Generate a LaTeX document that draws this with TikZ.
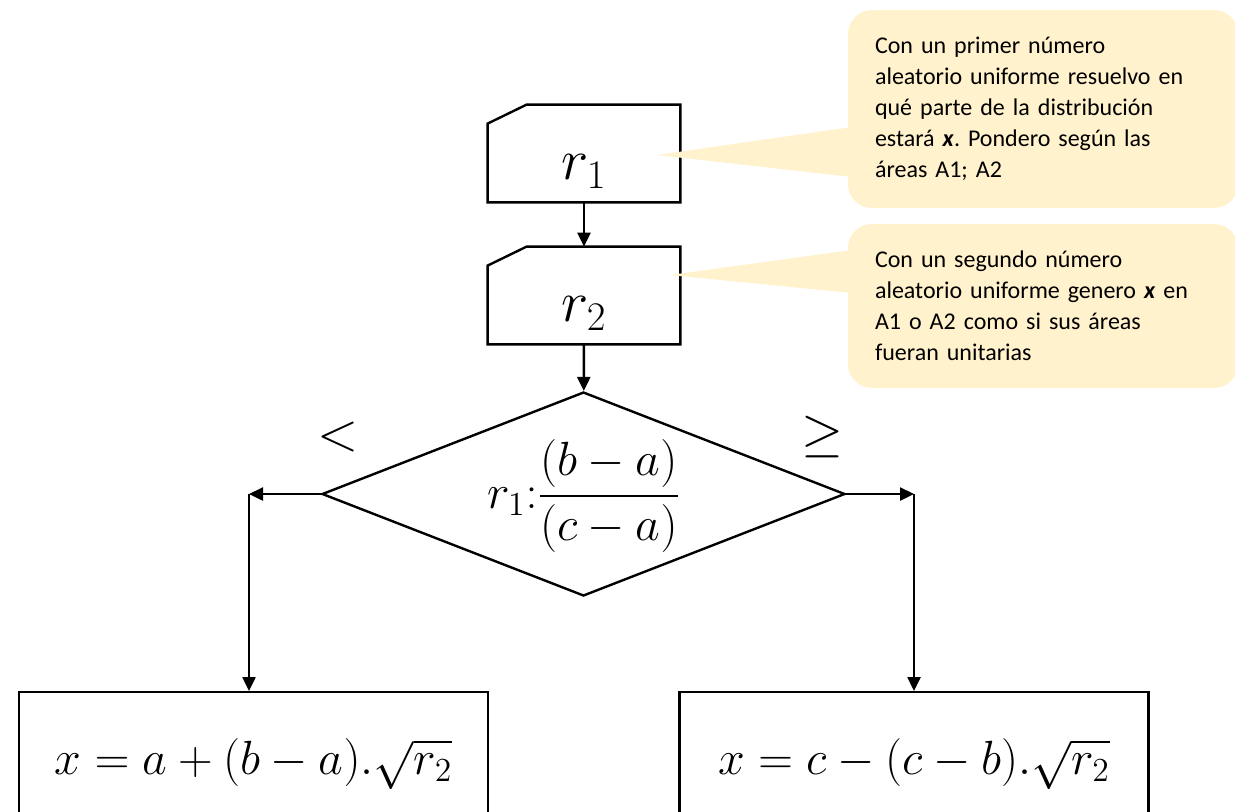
\RequirePackage{fix-cm}
\documentclass[tikz,border=0pt]{standalone}
\usepackage{amsmath}
\usepackage{fontspec}
\newfontfamily\notefont{Carlito}
\usetikzlibrary{arrows.meta,positioning,calc,shapes.geometric}

\definecolor{notefill}{RGB}{255,242,204}
% outline of a punched card, cut at the north west corner
\newcommand\cardoutline[1]{%
  \draw[line width=1.2pt] ($(#1.north west)+(0,-9.5pt)$) -- ($(#1.north west)+(19.5pt,0)$)
    -- (#1.north east) -- (#1.south east) -- (#1.south west) -- cycle;}

\begin{document}
\begin{tikzpicture}[x=0.5pt,y=-0.5pt,
    flow/.style={-{Triangle[length=7pt,width=6.5pt]},line width=1.2pt},
    card/.style={rectangle,minimum width=96pt,minimum height=48.5pt,inner sep=0pt},
    decision/.style={draw,diamond,line width=1.2pt,minimum width=261.5pt,minimum height=102pt,inner sep=0pt},
    resbox/.style={draw,rectangle,line width=1.2pt,minimum width=234.5pt,minimum height=100pt,inner sep=0pt,anchor=north},
    note/.style={fill=notefill,rounded corners=12pt,text width=168pt,align=left,inner xsep=13.5pt,
      font=\notefont\fontsize{12}{15.5}\selectfont\frenchspacing},
    sign/.style={font=\fontsize{27}{30}\selectfont,inner sep=0pt}]
  \useasboundingbox (0,0) rectangle (1235,811);
  \clip (0,0) rectangle (1235,811);

  % cards for the two random numbers
  \node[card] (r1) at (584,153.5) {\raisebox{-13pt}[0pt][0pt]{\fontsize{29}{34}\selectfont$r_1$}};
  \node[card] (r2) at (584,295.5) {\raisebox{-13pt}[0pt][0pt]{\fontsize{29}{34}\selectfont$r_2$}};
  \cardoutline{r1}
  \cardoutline{r2}

  % decision
  \node[decision] (dec) at (583.5,494) {\raisebox{-7pt}[0pt][0pt]{\makebox[0pt]{\fontsize{24}{28}\selectfont$\displaystyle r_1{:}\frac{(b-a)}{(c-a)}$}}};
  \node[sign] (lt) at (338,437) {$<$};
  \node[sign] (ge) at (822,437) {$\geq$};

  % results
  \node[resbox] (lbox) at (253.5,691) {\raisebox{9pt}[0pt][0pt]{\fontsize{24}{28}\selectfont$x=a+(b-a).\sqrt{r_2}$}};
  \node[resbox] (rbox) at (914,691) {\raisebox{9pt}[0pt][0pt]{\fontsize{24}{28}\selectfont$x=c-(c-b).\sqrt{r_2}$}};

  \coordinate (lk) at (249,494);
  \coordinate (rk) at (914,494);
  \draw[flow] (r1) -- (r2);
  \draw[flow] (r2) -- (dec);
  \draw[flow] (dec.west) -- (lk);
  \draw[flow] (lk) -- (lk |- lbox.north);
  \draw[flow] (dec.east) -- (rk);
  \draw[flow] (rk) -- (rk |- rbox.north);

  % notes
  \node[note,minimum height=99pt] (n1) at (1043,109) {Con un primer número\\aleatorio uniforme resuelvo en\\qué parte de la distribución\\estará \textbf{\textit{x}}. Pondero según las\\áreas A1; A2};
  \node[note,minimum height=82pt] (n2) at (1043,306) {Con un segundo número\\aleatorio uniforme genero \textbf{\textit{x}} en\\A1 o A2 como si sus áreas\\fueran unitarias};
  \coordinate (t1) at (657,155);
  \coordinate (t2) at (670,275);
  \fill[notefill] ($(n1.west)+(4,18)$) -- (t1) -- ($(n1.west)+(4,68)$) -- cycle;
  \fill[notefill] ($(n2.west)+(4,-56)$) -- (t2) -- ($(n2.west)+(4,-13)$) -- cycle;
\end{tikzpicture}
\end{document}
